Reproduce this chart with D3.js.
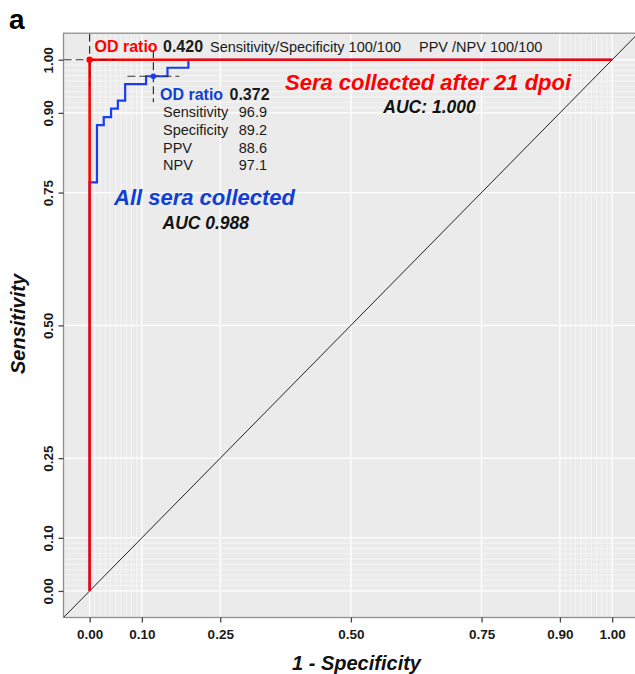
<!DOCTYPE html>
<html>
<head>
<meta charset="utf-8">
<script src="https://cdn.jsdelivr.net/npm/d3@7"></script>
<style>
body { margin: 0; background: #fff; }
svg { display: block; font-family: "Liberation Sans", Arial, sans-serif; }
</style>
</head>
<body>
<svg id="chart" width="635" height="674"></svg>
<script>
// ROC vertices, all sera (blue)
const allFpr = [0, 0, 0.014, 0.014, 0.027, 0.027, 0.041, 0.041, 0.054, 0.054, 0.068, 0.068, 0.108, 0.108, 0.149, 0.149, 0.189, 0.189, 1];
const allTpr = [0, 0.769, 0.769, 0.877, 0.877, 0.892, 0.892, 0.908, 0.908, 0.923, 0.923, 0.954, 0.954, 0.969, 0.969, 0.985, 0.985, 1, 1];
// ROC vertices, sera after 21 dpoi (red)
const lateFpr = [0, 0, 1];
const lateTpr = [0, 1, 1];
// chosen cut-offs [fpr, tpr]
const allCut = [0.122, 0.969];
const lateCut = [0, 1];

const statLabels = ["Sensitivity", "Specificity", "PPV", "NPV"];
const statValues = ["96.9", "89.2", "88.6", "97.1"];

const majorBreaks = [0, 0.1, 0.25, 0.5, 0.75, 0.9, 1];
const minorBreaks = [0.01, 0.02, 0.03, 0.04, 0.05, 0.06, 0.07, 0.08, 0.09,
                     0.91, 0.92, 0.93, 0.94, 0.95, 0.96, 0.97, 0.98, 0.99];

const red = "#ff0000";
const blue = "#1a3cf5";
const blueText = "#0f3fd4";

var svg = d3.select("#chart");

var x = d3.scaleLinear().domain([-0.05, 1.05]).range([63.5, 638.3]);
var y = d3.scaleLinear().domain([-0.05, 1.05]).range([617.5, 33.2]);

var x0 = x.range()[0], x1 = x.range()[1];
var y0 = y.range()[1], y1 = y.range()[0];

svg.append("defs").append("clipPath").attr("id", "panel")
    .append("rect")
    .attr("x", x0).attr("y", y0)
    .attr("width", x1 - x0).attr("height", y1 - y0);

svg.append("rect")
    .attr("x", x0).attr("y", y0)
    .attr("width", x1 - x0).attr("height", y1 - y0)
    .attr("fill", "#ebebeb");

var grid = svg.append("g").attr("clip-path", "url(#panel)");

// minor grid
minorBreaks.forEach(function(b) {
    grid.append("line")
        .attr("x1", x(b)).attr("x2", x(b)).attr("y1", y0).attr("y2", y1)
        .attr("stroke", "#fff").attr("stroke-width", 0.7).attr("stroke-opacity", 0.75);
    grid.append("line")
        .attr("y1", y(b)).attr("y2", y(b)).attr("x1", x0).attr("x2", x1)
        .attr("stroke", "#fff").attr("stroke-width", 0.7).attr("stroke-opacity", 0.75);
});
// major grid
majorBreaks.forEach(function(b) {
    grid.append("line")
        .attr("x1", x(b)).attr("x2", x(b)).attr("y1", y0).attr("y2", y1)
        .attr("stroke", "#fff").attr("stroke-width", 1.3);
    grid.append("line")
        .attr("y1", y(b)).attr("y2", y(b)).attr("x1", x0).attr("x2", x1)
        .attr("stroke", "#fff").attr("stroke-width", 1.3);
});

// reference diagonal
var dom = x.domain();
grid.append("line")
    .attr("x1", x(dom[0])).attr("y1", y(dom[0]))
    .attr("x2", x(dom[1])).attr("y2", y(dom[1]))
    .attr("stroke", "#222").attr("stroke-width", 1);

var line = d3.line().x(d => x(d[0])).y(d => y(d[1]));

grid.append("path")
    .datum(allFpr.map((f, i) => [f, allTpr[i]]))
    .attr("d", line)
    .attr("fill", "none").attr("stroke", blue).attr("stroke-width", 2.2);

grid.append("path")
    .datum(lateFpr.map((f, i) => [f, lateTpr[i]]))
    .attr("d", line)
    .attr("fill", "none").attr("stroke", red).attr("stroke-width", 2.6);

// cut-off crosshairs
var cross = 26;
[lateCut, allCut].forEach(function(c) {
    var cx = x(c[0]), cy = y(c[1]);
    grid.append("line")
        .attr("x1", cx - cross).attr("x2", cx + cross).attr("y1", cy).attr("y2", cy)
        .attr("stroke", "#333").attr("stroke-width", 1.2).attr("stroke-dasharray", "8,4");
    grid.append("line")
        .attr("x1", cx).attr("x2", cx).attr("y1", cy - cross).attr("y2", cy + cross)
        .attr("stroke", "#333").attr("stroke-width", 1.2).attr("stroke-dasharray", "8,4");
});

svg.append("circle").attr("cx", x(lateCut[0])).attr("cy", y(lateCut[1]))
    .attr("r", 3.2).attr("fill", red);
svg.append("circle").attr("cx", x(allCut[0])).attr("cy", y(allCut[1]))
    .attr("r", 2.8).attr("fill", blue);

// panel border
svg.append("rect")
    .attr("x", x0).attr("y", y0)
    .attr("width", x1 - x0).attr("height", y1 - y0)
    .attr("fill", "none").attr("stroke", "#8f8f8f").attr("stroke-width", 1.3);

// axes
var fmt = d3.format(".2f");
var xAxis = svg.append("g")
    .attr("transform", `translate(0,${y1})`)
    .call(d3.axisBottom(x).tickValues(majorBreaks).tickSize(5).tickFormat(fmt));
xAxis.select(".domain").remove();
xAxis.selectAll(".tick line").attr("stroke", "#444").attr("stroke-width", 1.3);
xAxis.selectAll(".tick text")
    .attr("y", 21).attr("dy", 0)
    .style("font-family", "Liberation Sans, Arial, sans-serif")
    .style("font-size", "13.5px").style("font-weight", "bold").attr("fill", "#1a1a1a");

var yAxis = svg.append("g")
    .attr("transform", `translate(${x0},0)`)
    .call(d3.axisLeft(y).tickValues(majorBreaks).tickSize(5).tickFormat(fmt));
yAxis.select(".domain").remove();
yAxis.selectAll(".tick line").attr("stroke", "#444").attr("stroke-width", 1.3);
yAxis.selectAll(".tick text")
    .attr("transform", "rotate(-90)")
    .attr("x", 0).attr("y", -11).attr("dy", 0)
    .attr("text-anchor", "middle")
    .style("font-family", "Liberation Sans, Arial, sans-serif")
    .style("font-size", "13.5px").style("font-weight", "bold").attr("fill", "#1a1a1a");

// axis titles
svg.append("text")
    .attr("transform", "translate(24.5,324) rotate(-90)")
    .attr("text-anchor", "middle")
    .style("font-size", "20px").style("font-weight", "bold").style("font-style", "italic")
    .attr("fill", "#111")
    .text("Sensitivity");

svg.append("text")
    .attr("x", 356.5).attr("y", 670)
    .attr("text-anchor", "middle")
    .style("font-size", "20px").style("font-weight", "bold").style("font-style", "italic")
    .attr("fill", "#111")
    .text("1 - Specificity");

svg.append("text")
    .attr("x", 9).attr("y", 29)
    .style("font-size", "28px").style("font-weight", "bold")
    .attr("fill", "#000")
    .text("a");

// top annotation (red cut-off)
function label(px, py, txt, size, weight, color, style) {
    return svg.append("text")
        .attr("x", px).attr("y", py)
        .style("font-size", size + "px")
        .style("font-weight", weight || "normal")
        .style("font-style", style || "normal")
        .attr("fill", color || "#1a1a1a")
        .text(txt);
}

label(94.5, 52, "OD ratio", 16, "bold", red);
label(163, 52, "0.420", 16, "bold", "#1a1a1a");
label(210, 52, "Sensitivity/Specificity 100/100", 14.5);
label(419, 52, "PPV /NPV 100/100", 14.5);

// blue cut-off block
label(160, 100, "OD ratio", 16, "bold", blueText);
label(229.5, 100, "0.372", 16, "bold", "#1a1a1a");
var rowY = [117, 135, 152.5, 170];
statLabels.forEach(function(s, i) {
    label(163, rowY[i], s, 14.5);
    label(267, rowY[i], statValues[i], 14.5).attr("text-anchor", "end");
});

label(285, 90, "Sera collected after 21 dpoi", 22, "bold", red, "italic");
label(429.5, 113, "AUC: 1.000", 17.5, "bold", "#111", "italic").attr("text-anchor", "middle");

label(114, 205, "All sera collected", 22, "bold", blueText, "italic");
label(162.5, 228.5, "AUC 0.988", 17.5, "bold", "#111", "italic");
</script>
</body>
</html>
